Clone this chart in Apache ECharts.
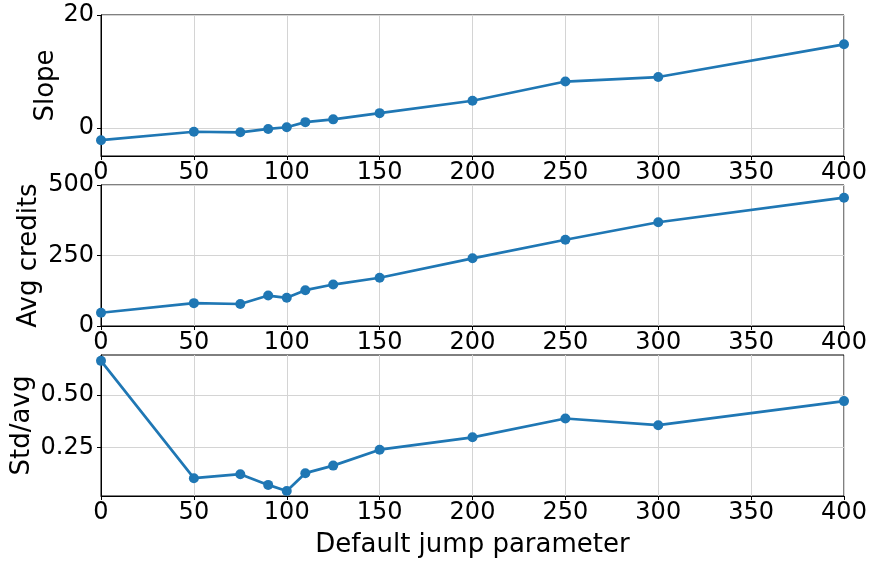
<!DOCTYPE html>
<html>
<head>
<meta charset="utf-8">
<script src="https://cdn.jsdelivr.net/npm/echarts@6/dist/echarts.min.js"></script>
<style>
html,body{margin:0;padding:0;background:#fff;}
#chart{width:869px;height:563px;}
</style>
</head>
<body>
<div id="chart"></div>
<script>
var xValues = [0, 50, 75, 90, 100, 110, 125, 150, 200, 250, 300, 400];
var slopeValues = [-2.2, -0.7, -0.8, -0.2, 0.1, 1.0, 1.5, 2.6, 4.8, 8.2, 9.0, 14.8];
var avgCreditValues = [47, 81, 78, 108, 100, 127, 147, 171, 240, 306, 368, 455];
var stdAvgValues = [0.663, 0.103, 0.122, 0.071, 0.042, 0.127, 0.163, 0.239, 0.298, 0.388, 0.356, 0.471];
var slopeTicks = [0, 20];
var stdAvgTicks = [0.25, 0.5];
var panelNames = ['Slope', 'Avg credits', 'Std/avg'];
var xName = 'Default jump parameter';

var FONT = 'DejaVu Sans';
var FS = 24;
var NFS = 26;
var BLUE = '#1f77b4';
var GRIDC = '#d4d4d4';

function pairs(ys) { return xValues.map(function (x, i) { return [x, ys[i]]; }); }

function xAxis(idx, withName) {
  var a = {
    type: 'value', gridIndex: idx, min: 0, max: 400, interval: 50,
    axisLine: { show: true, onZero: false, lineStyle: { color: '#000', width: 1 } },
    axisTick: { show: true, length: 4, lineStyle: { color: '#000' } },
    axisLabel: { fontFamily: FONT, fontSize: FS, color: '#000', margin: 5, showMinLabel: true, showMaxLabel: true, hideOverlap: false },
    splitLine: { show: true, lineStyle: { color: GRIDC, width: 1 } }
  };
  if (withName) {
    a.name = xName; a.nameLocation = 'middle'; a.nameGap = 36; a.nameMoveOverlap = false;
    a.nameTextStyle = { fontFamily: FONT, fontSize: NFS, color: '#000' };
  }
  return a;
}

function yAxis(idx, extra, gap) {
  var a = {
    type: 'value', gridIndex: idx,
    name: panelNames[idx], nameLocation: 'middle', nameGap: gap, nameMoveOverlap: false,
    nameTextStyle: { fontFamily: FONT, fontSize: NFS, color: '#000' },
    axisLine: { show: true, lineStyle: { color: '#000', width: 1 } },
    axisTick: { show: true, length: 4, lineStyle: { color: '#000' } },
    axisLabel: { fontFamily: FONT, fontSize: FS, color: '#000', margin: 7, showMinLabel: true, showMaxLabel: true, hideOverlap: false },
    splitLine: { show: true, lineStyle: { color: GRIDC, width: 1 } }
  };
  for (var k in extra) {
    if (typeof extra[k] === 'object' && a[k] && typeof a[k] === 'object') {
      for (var j in extra[k]) a[k][j] = extra[k][j];
    } else a[k] = extra[k];
  }
  return a;
}

function series(idx, ys) {
  return {
    type: 'line', xAxisIndex: idx, yAxisIndex: idx, data: pairs(ys),
    symbol: 'circle', symbolSize: 10, showAllSymbol: true,
    lineStyle: { color: BLUE, width: 2.7 }, itemStyle: { color: BLUE },
    emphasis: { disabled: true }, animation: false
  };
}

var grids = [
  { left: 101, right: 25, top: 15, height: 141 },
  { left: 101, right: 25, top: 185, height: 141 },
  { left: 101, right: 25, top: 355, height: 141 }
].map(function (g) {
  g.show = true; g.borderColor = '#000'; g.borderWidth = 1; g.backgroundColor = 'transparent';
  g.containLabel = false; g.outerBoundsMode = 'none';
  return g;
});

var chart = echarts.init(document.getElementById('chart'), null, { renderer: 'canvas' });
chart.setOption({
  animation: false,
  backgroundColor: '#fff',
  grid: grids,
  xAxis: [xAxis(0, false), xAxis(1, false), xAxis(2, true)],
  yAxis: [
    yAxis(0, { min: -5, max: 20,
      axisLabel: { customValues: slopeTicks },
      axisTick: { customValues: slopeTicks } }, 42),
    yAxis(1, { min: 0, max: 500, interval: 250 }, 59),
    yAxis(2, { min: 0.018, max: 0.691,
      axisLabel: { customValues: stdAvgTicks, formatter: function (v) { return v.toFixed(2); } },
      axisTick: { customValues: stdAvgTicks } }, 66)
  ],
  series: [series(0, slopeValues), series(1, avgCreditValues), series(2, stdAvgValues)]
});
</script>
</body>
</html>
